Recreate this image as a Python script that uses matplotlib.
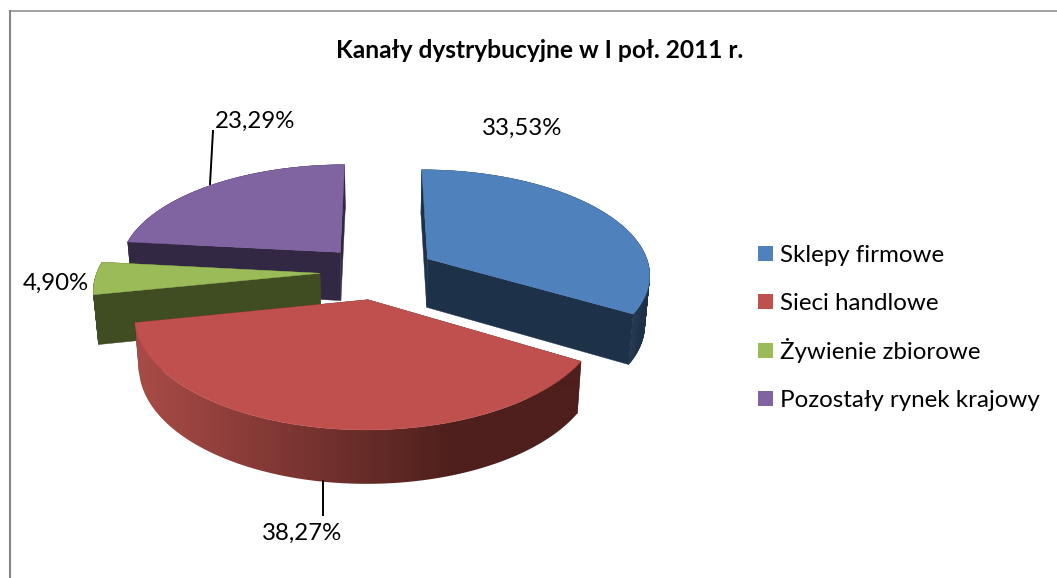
import numpy as np
import matplotlib
matplotlib.use("Agg")
import matplotlib.pyplot as plt
from matplotlib.colors import LinearSegmentedColormap
from matplotlib.patches import Polygon, Rectangle

title = "Kanały dystrybucyjne w I poł. 2011 r."
categories = ["Sklepy firmowe", "Sieci handlowe", "Żywienie zbiorowe", "Pozostały rynek krajowy"]
values = [33.53, 38.27, 4.90, 23.29]
colors = ["#4F81BD", "#C0504D", "#9BBB59", "#8064A2"]
wall_colors = ["#1D3249", "#4E1F1C", "#404C21", "#332843"]
draw_order = [3, 2, 0, 1]

W, H = 1057, 578
plt.rcParams["font.family"] = ["Lato", "DejaVu Sans"]
fig = plt.figure(figsize=(W / 100, H / 100), dpi=100, facecolor="white")
ax = fig.add_axes([0, 0, 1, 1])

# 3-D view parameters
Cx, Cy, R, TILT, K, DEPTH, DEPTH_K, EXPLODE = 378.0, 272.0, 223.0, 0.468, 0.135, 49.0, 0.08, 58.0


def project(X, Y, level):
    s = 1 + K * Y / R
    shrink = 1 - 0.018 * level
    px = Cx + shrink * X / s
    py = Cy - TILT * Y / s + level * DEPTH * (1 - DEPTH_K * Y / R)
    return np.column_stack([px, py])


total = sum(values)
edges = np.cumsum([0] + values) / total * 2 * np.pi
red_cmap = LinearSegmentedColormap.from_list("wall", ["#A84B47", "#4E1F1C"])

for i in draw_order:
    a0, a1 = edges[i], edges[i + 1]
    mid = (a0 + a1) / 2
    ox, oy = EXPLODE * np.sin(mid), EXPLODE * np.cos(mid)
    th = np.linspace(a0, a1, max(int(np.degrees(a1 - a0) * 2), 8))
    arc_x, arc_y = ox + R * np.sin(th), oy + R * np.cos(th)
    top = project(arc_x, arc_y, 0)
    bot = project(arc_x, arc_y, 1)
    apex_top = project(np.array([ox]), np.array([oy]), 0)
    apex_bot = project(np.array([ox]), np.array([oy]), 1)
    wc = wall_colors[i]
    # radial walls
    for idx in (0, -1):
        ax.add_patch(Polygon(np.vstack([apex_top, top[idx:][:1], bot[idx:][:1], apex_bot]),
                             closed=True, fc=wc, ec=wc, lw=0.3, zorder=1))
    # outer wall
    if i == 1:
        outer = np.vstack([top, bot[::-1]])
        clip = Polygon(outer, closed=True, fc="none", ec="none", transform=ax.transData)
        ax.add_patch(clip)
        x_grid = np.arange(100, 620)
        shade = np.clip((x_grid - 140) / (455 - 140), 0, 1).reshape(1, -1)
        grad = ax.imshow(shade, cmap=red_cmap, vmin=0, vmax=1, extent=(100, 620, H, 0),
                         aspect="auto", zorder=1, interpolation="bilinear")
        grad.set_clip_path(clip)
    else:
        for j in range(len(th) - 1):
            strip = np.vstack([top[j], top[j + 1], bot[j + 1], bot[j]])
            ax.add_patch(Polygon(strip, closed=True, fc=wc, ec=wc, lw=0.3, zorder=1))
    # top face
    ax.add_patch(Polygon(np.vstack([apex_top, top]), closed=True, fc=colors[i], ec=colors[i], lw=0.3, zorder=1.5))

ax.set_xlim(0, W)
ax.set_ylim(H, 0)
ax.axis("off")

# chart frame
ax.plot([10, 10], [H, 10], color="#868686", lw=1.5, zorder=0, solid_capstyle="butt")
ax.plot([9, W], [10.5, 10.5], color="#868686", lw=1.1, zorder=0, solid_capstyle="butt")

# title
ax.text(540, 50, title, ha="center", va="center", fontsize=17.65, fontweight="bold", color="black")

# data labels and leader lines
label_pos = [(522, 128), (302, 533), (56, 283), (255, 121)]
for v, (lx, ly) in zip(values, label_pos):
    ax.text(lx, ly, f"{v:.2f}%".replace(".", ","), ha="center", va="center", fontsize=17.3, color="black")
ax.plot([210, 213], [184, 131], color="black", lw=1.4, zorder=2)
ax.plot([323, 323], [481, 515], color="black", lw=1.4, zorder=2)

# legend
for k, (name, c) in enumerate(zip(categories, colors)):
    yc = 253.5 + 48.3 * k
    ax.add_patch(Rectangle((758, yc - 7.5), 15, 15, fc=c, ec="none", zorder=2))
    ax.text(780, yc + 8.5, name, ha="left", va="baseline", fontsize=17.4, color="black")

fig.savefig("out.png", dpi=100, facecolor="white")
